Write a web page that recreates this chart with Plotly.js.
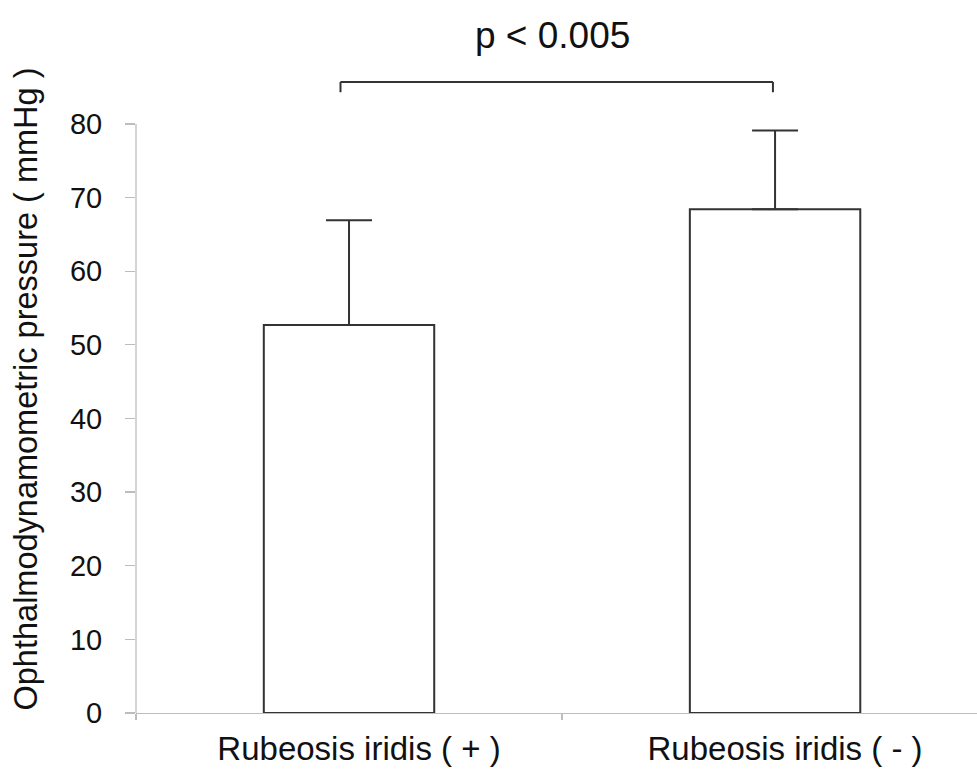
<!DOCTYPE html>
<html>
<head>
<meta charset="utf-8">
<script src="https://cdn.plot.ly/plotly-3.0.1.min.js"></script>
<style>html,body{margin:0;padding:0;background:#fff;}</style>
</head>
<body>
<div id="chart" style="width:977px;height:773px;"></div>
<script>
// Data
const categories = ["Rubeosis iridis ( + )", "Rubeosis iridis ( - )"];
const meanValues = [52.7, 68.4];
const sdValues = [14.2, 10.7];
const yTickValues = [0, 10, 20, 30, 40, 50, 60, 70, 80];
const yTitle = "Ophthalmodynamometric pressure ( mmHg )";
const pLabel = "p < 0.005";
const bracketTop = 85.7;
const bracketFoot = 84.3;
const bracketEnds = [-0.02, 0.995];

const FONT = "Liberation Sans, Arial, Helvetica, sans-serif";
const dark = "#333333";
const axisGray = "#bdbdbd";

const trace = {
  type: "bar",
  x: categories,
  y: meanValues,
  width: 0.4,
  marker: {color: "#ffffff", line: {color: dark, width: 2}},
  error_y: {
    type: "data", symmetric: false,
    array: sdValues, arrayminus: sdValues.map(() => 0),
    color: dark, thickness: 2, width: 23
  },
  hoverinfo: "none"
};

const shapes = [
  {type: "line", xref: "paper", yref: "y", x0: 0, x1: 0, y0: 0, y1: yTickValues[yTickValues.length - 1],
   line: {color: axisGray, width: 1.3}},
  {type: "line", xref: "x", yref: "y", x0: bracketEnds[0], x1: bracketEnds[1], y0: bracketTop, y1: bracketTop,
   line: {color: dark, width: 2}},
  {type: "line", xref: "x", yref: "y", x0: bracketEnds[0], x1: bracketEnds[0], y0: bracketFoot, y1: bracketTop,
   line: {color: dark, width: 2}},
  {type: "line", xref: "x", yref: "y", x0: bracketEnds[1], x1: bracketEnds[1], y0: bracketFoot, y1: bracketTop,
   line: {color: dark, width: 2}}
];

const layout = {
  width: 977, height: 773,
  margin: {l: 136, r: 0, t: 65, b: 60, pad: 0},
  paper_bgcolor: "#ffffff", plot_bgcolor: "#ffffff",
  showlegend: false,
  font: {family: FONT, color: "#111111"},
  xaxis: {
    type: "category",
    range: [-0.5, 1.474],
    showline: true, linecolor: axisGray, linewidth: 1.3,
    ticks: "outside", tickson: "boundaries", ticklen: 6, tickcolor: axisGray, tickwidth: 1.3,
    showgrid: false, zeroline: false,
    tickfont: {family: FONT, size: 33, color: "#111111"},
    ticklabelstandoff: 6,
    ticklabelshift: 10
  },
  yaxis: {
    range: [0, 88],
    tickvals: yTickValues,
    ticktext: yTickValues.map(String),
    showline: false,
    ticks: "outside", ticklen: 10, tickcolor: axisGray, tickwidth: 1.3,
    showgrid: false, zeroline: false,
    tickfont: {family: FONT, size: 29, color: "#111111"},
    ticklabelstandoff: 17,
    title: {text: yTitle, font: {family: FONT, size: 32.5, color: "#111111"}, standoff: 22}
  },
  shapes: shapes,
  annotations: [
    {xref: "x", yref: "paper", x: (bracketEnds[0] + bracketEnds[1]) / 2 - 0.01, y: 1.0455,
     xanchor: "center", yanchor: "middle", showarrow: false,
     text: pLabel, font: {family: FONT, size: 37, color: "#111111"}}
  ]
};

Plotly.newPlot("chart", [trace], layout, {displayModeBar: false, staticPlot: true});
</script>
</body>
</html>
